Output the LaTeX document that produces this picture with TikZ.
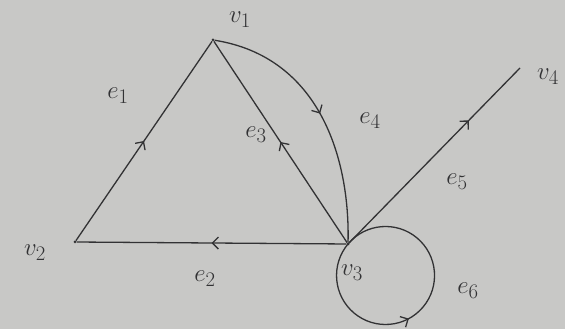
\documentclass[tikz,border=0pt]{standalone}
\usetikzlibrary{decorations.markings,arrows.meta}
\definecolor{paper}{RGB}{200,200,198}
\definecolor{ink}{RGB}{50,50,52}
\tikzset{
  edge/.style={draw=ink, line width=1.3pt},
  vtx/.style={circle, fill=ink, inner sep=0pt, minimum size=3pt},
  lbl/.style={text=ink, font=\fontsize{28}{30}\selectfont, inner sep=0pt},
  midarrow/.style={postaction={decorate}, decoration={markings,
    mark=at position #1 with {\arrow[ink, line width=1.3pt]{Straight Barb[length=6pt,width=12pt]}}}}
}
\begin{document}
\begin{tikzpicture}[x=1pt,y=1pt]
\fill[paper] (0,0) rectangle (565,329);
\useasboundingbox (0,0) rectangle (565,329);
\node[vtx] (v1) at (213,289) {};
\node[vtx] (v2) at (75,87) {};
\node[vtx] (v3) at (348,85) {};
\coordinate (v4) at (520,261);

\draw[edge, midarrow=0.5] (v2) -- (v1);
\draw[edge, midarrow=0.5] (v3) -- (v2);
\draw[edge, midarrow=0.5] (v3) -- (v1);
\draw[edge, midarrow=0.5] (v1) .. controls (320,272) and (350,170) .. (v3);
\draw[edge, midarrow=0.7] (v3) -- (v4);
\draw[edge, midarrow=0.44] (v3.center) arc[start angle=140, end angle=500, radius=49];

\node[lbl] (lv1) at (240,309) {$v_1$};
\node[lbl] (lv2) at (35,76) {$v_2$};
\node[lbl] (lv3) at (352,56) {$v_3$};
\node[lbl] (lv4) at (548,252) {$v_4$};
\node[lbl] (le1) at (118,233) {$e_1$};
\node[lbl] (le2) at (205,50) {$e_2$};
\node[lbl] (le3) at (256,194) {$e_3$};
\node[lbl] (le4) at (370,208) {$e_4$};
\node[lbl] (le5) at (457,147) {$e_5$};
\node[lbl] (le6) at (468,38) {$e_6$};
\end{tikzpicture}
\end{document}
